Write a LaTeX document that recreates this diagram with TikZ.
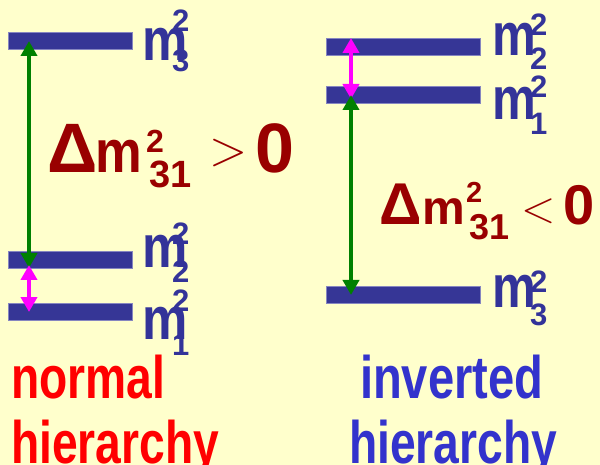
\documentclass[tikz,border=0pt]{standalone}
\usepackage{fontspec}
\setmainfont{Liberation Sans}
\newfontfamily\lmr{Latin Modern Roman}
\usepackage{graphicx}
\usetikzlibrary{arrows.meta}
\definecolor{bg}{HTML}{FFFFCC}
\definecolor{barc}{HTML}{363696}
\definecolor{lab}{HTML}{333399}
\definecolor{dred}{HTML}{990000}
\definecolor{ired}{HTML}{FF0000}
\definecolor{iblue}{HTML}{3333CC}
\definecolor{grn}{HTML}{008000}
\definecolor{mag}{HTML}{FF00FF}
\newcommand{\fsz}[1]{\fontsize{#1pt}{#1pt}\selectfont\bfseries}
\newcommand{\sx}[2]{\scalebox{#1}[1]{#2}}
\begin{document}
\begin{tikzpicture}[x=1pt,y=-1pt,
  level/.style={fill=barc, draw=barc!60!white, line width=0.6pt, inner sep=0pt, outer sep=0pt, minimum height=17.5pt, anchor=north west},
  lvlL/.style={level, minimum width=124pt},
  lvlR/.style={level, minimum width=154pt},
  txt/.style={inner sep=0pt, outer sep=0pt, anchor=base west},
  mlab/.style={txt, text=lab, font=\fsz{60}},
  dlab/.style={txt, text=lab, font=\fsz{31}},
  dr/.style={txt, text=dred},
  garrow/.style={draw=grn, line width=4.5pt, {Triangle[length=15pt,width=16pt]}-{Triangle[length=15pt,width=16pt]}},
  marrow/.style={draw=mag, line width=4.5pt, {Triangle[length=15pt,width=16pt]}-{Triangle[length=15pt,width=16pt]}}
]
\useasboundingbox (0,0) rectangle (600,465);
\fill[bg] (0,0) rectangle (600,465);

% ---- normal hierarchy bars
\node[lvlL] (L3) at (8,32) {};
\node[lvlL] (L2) at (8,251) {};
\node[lvlL] (L1) at (8,303) {};
% ---- inverted hierarchy bars
\node[lvlR] (R2) at (326,38) {};
\node[lvlR] (R1) at (326,86) {};
\node[lvlR] (R3) at (326,286) {};

% ---- arrow end points
\coordinate (gLt) at (29,41);
\coordinate (gLb) at (29,268);
\coordinate (mLt) at (29,265);
\coordinate (mLb) at (29,312);
\coordinate (mRt) at (351,38);
\coordinate (mRb) at (351,99);
\coordinate (gRt) at (351,95);
\coordinate (gRb) at (351,295);

\draw[garrow] (gLt) -- (gLb);
\draw[marrow] (mLt) -- (mLb);
\draw[marrow] (mRt) -- (mRb);
\draw[garrow] (gRt) -- (gRb);

% ---- left labels
\node[mlab] (L3m) at (142,61) {\sx{0.85}{m}};
\node[dlab] (L3p) at (172,32) {2};
\node[dlab] (L3s) at (172,72) {3};
\node[mlab] (L2m) at (142,268) {\sx{0.85}{m}};
\node[dlab] (L2p) at (172,245) {2};
\node[dlab] (L2s) at (172,283) {2};
\node[mlab] (L1m) at (142,339) {\sx{0.85}{m}};
\node[dlab] (L1p) at (172,312) {2};
\node[dlab] (L1s) at (172,355) {1};

% ---- right labels
\node[mlab] (R2m) at (492,56) {\sx{0.82}{m}};
\node[dlab] (R2p) at (530,36) {2};
\node[dlab] (R2s) at (530,70) {2};
\node[mlab] (R1m) at (492,120) {\sx{0.82}{m}};
\node[dlab] (R1p) at (530,98) {2};
\node[dlab] (R1s) at (530,135) {1};
\node[mlab] (R3m) at (492,308) {\sx{0.82}{m}};
\node[dlab] (R3p) at (530,292) {2};
\node[dlab] (R3s) at (530,325) {3};

% ---- Delta m^2_31 > 0
\node[dr, font=\fsz{70}] (LD) at (47,173) {Δ};
\node[dr, font=\fsz{60}] (Lm) at (95,173) {\sx{0.875}{m}};
\node[dr, font=\fsz{32}] (Lp) at (146,153) {2};
\node[dr, font=\fsz{38}] (Ls) at (149,188) {31};
\node[dr, font=\lmr\fontsize{50pt}{50pt}\selectfont] (Lg) at (209,166) {>};
\node[dr, font=\fsz{70}] (L0) at (255,173) {0};

% ---- Delta m^2_31 < 0
\node[dr, font=\fsz{59}] (RD) at (379,225) {Δ};
\node[dr, font=\fsz{48}] (Rm) at (422,225) {m};
\node[dr, font=\fsz{29}] (Rp) at (466,203) {2};
\node[dr, font=\fsz{36}] (Rs) at (469,240) {31};
\node[dr, font=\lmr\fontsize{45pt}{45pt}\selectfont] (Rl) at (521,223) {<};
\node[dr, font=\fsz{56}] (R0) at (563,225) {0};

% ---- captions
\node[txt, text=ired, font=\fsz{60}] (nrm) at (11,398) {\sx{0.77}{normal}};
\node[txt, text=ired, font=\fsz{60}] (nhi) at (11,463) {\sx{0.77}{hierarchy}};
\node[txt, text=iblue, font=\fsz{60}] (inv) at (360,398) {\sx{0.785}{inverted}};
\node[txt, text=iblue, font=\fsz{60}] (ihi) at (349,463) {\sx{0.77}{hierarchy}};
\end{tikzpicture}
\end{document}
